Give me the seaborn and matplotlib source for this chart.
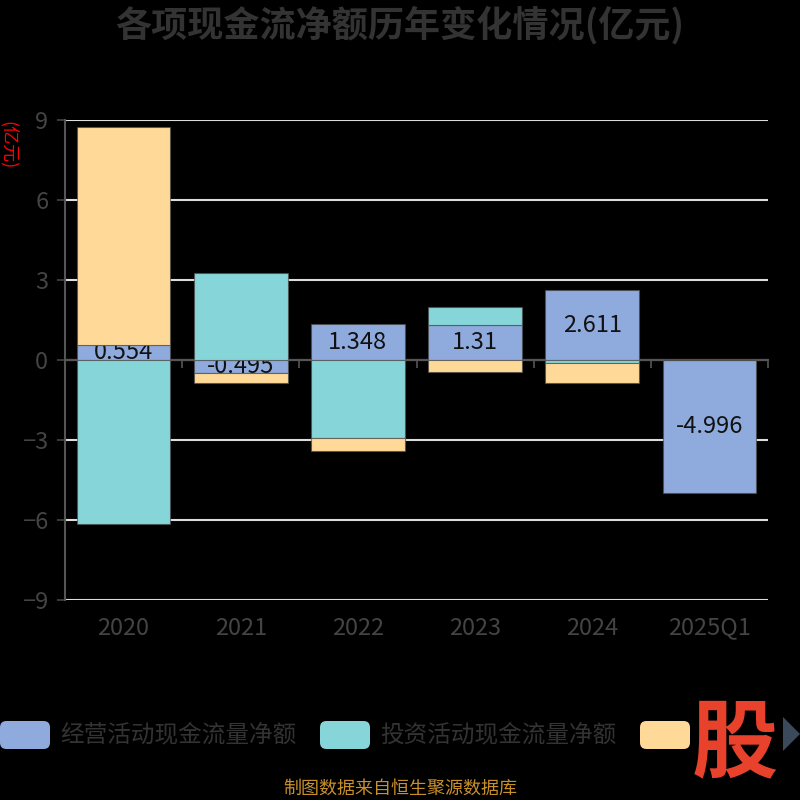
import matplotlib
matplotlib.use("Agg")
import matplotlib.pyplot as plt
from matplotlib.patches import FancyBboxPatch, Polygon
import numpy as np
import pandas as pd
import seaborn as sns

years = ["2020", "2021", "2022", "2023", "2024", "2025Q1"]
operating = [0.554, -0.495, 1.348, 1.31, 2.611, -4.996]
investing = [-6.15, 3.26, -2.92, 0.68, -0.10, 0.0]
financing = [8.18, -0.37, -0.49, -0.45, -0.76, 0.0]
series_names = ["经营活动现金流量净额", "投资活动现金流量净额", "筹资活动现金流量净额"]
colors = ["#8FAADC", "#86D5D8", "#FFD998"]

sns.set_theme(style="white")
plt.rcParams["font.family"] = ["Noto Sans CJK SC", "DejaVu Sans"]

fig = plt.figure(figsize=(8, 8), dpi=100, facecolor="black")
ax = fig.add_axes([0.08125, 0.25, 0.87875, 0.60])
ax.set_facecolor("black")

# separate stacking for positive and negative values
pos_base = np.zeros(len(years))
neg_base = np.zeros(len(years))
bottoms = []
for vals in (operating, investing, financing):
    v = np.array(vals)
    b = np.where(v >= 0, pos_base, neg_base)
    bottoms.append(b)
    pos_base = pos_base + np.where(v >= 0, v, 0)
    neg_base = neg_base + np.where(v < 0, v, 0)

df = pd.DataFrame({"year": years, "op": operating, "inv": investing, "fin": financing})
for i, (col, c) in enumerate(zip(["op", "inv", "fin"], colors)):
    sns.barplot(data=df, x="year", y=col, bottom=bottoms[i], color=c, saturation=1,
                width=0.8, errorbar=None, ax=ax, edgecolor=(0.3, 0.3, 0.3, 0.7),
                linewidth=0.8, zorder=2 if i == 0 else 3)

for i, v in enumerate(operating):
    ax.text(i, bottoms[0][i] + v / 2, f"{v:g}", ha="center", va="center",
            fontsize=17, color="#111111", zorder=2.5)

ax.set_xlim(-0.5, 5.5)
ax.set_ylim(-9, 9)
ax.set_yticks(range(-9, 10, 3))
ax.set_xlabel("")
ax.set_ylabel("")
ax.grid(axis="y", color="#dddddd", linewidth=1.5)
ax.grid(axis="x", visible=False)
ax.set_axisbelow(True)
for s in ["top", "right", "bottom"]:
    ax.spines[s].set_visible(False)
ax.spines["left"].set_color("#555555")
ax.spines["left"].set_linewidth(1.5)
ax.tick_params(axis="y", colors="#444444", labelsize=17, length=6, width=1.2,
               direction="out", left=True, pad=6)
ax.tick_params(axis="x", colors="#444444", labelsize=17, length=0, pad=12)

# zero axis line with category boundary ticks (pointing down)
sec = ax.secondary_xaxis(0.5)
sec.set_xticks(np.arange(-0.5, 6, 1.0))
sec.set_xticklabels([])
sec.xaxis.set_ticks_position("bottom")
sec.spines["top"].set_visible(False)
sec.spines["bottom"].set_visible(True)
sec.spines["bottom"].set_color("#555555")
sec.spines["bottom"].set_linewidth(1.5)
sec.tick_params(axis="x", length=6, width=1.2, color="#555555", direction="out",
                bottom=True, top=False)
sec.set_zorder(1)

fig.text(8 / 800, 1 - 145 / 800, "(亿元)", rotation=270, color="red", fontsize=13,
         ha="center", va="center")

fig.text(0.5, 0.968, "各项现金流净额历年变化情况(亿元)", ha="center", va="center",
         fontsize=26, fontweight="bold", color="#333333")

# legend
legend_x = [0, 320, 640]
for lx, name, c in zip(legend_x, series_names, colors):
    fig.patches.append(FancyBboxPatch((lx / 800, 1 - 749 / 800), 50 / 800, 28 / 800,
                                      boxstyle="round,pad=0,rounding_size=0.008",
                                      transform=fig.transFigure, facecolor=c,
                                      edgecolor="none"))
    if lx < 600:
        fig.text((lx + 60) / 800, 1 - 735 / 800, name, ha="left", va="center",
                 fontsize=17, color="#333333")

fig.patches.append(Polygon([[783 / 800, 1 - 717 / 800], [800 / 800, 1 - 734 / 800],
                            [783 / 800, 1 - 751 / 800]], closed=True,
                           transform=fig.transFigure, facecolor="#3A4A5A",
                           edgecolor="none"))
fig.text(735 / 800, 1 - 745 / 800, "股", ha="center", va="center", fontsize=62,
         fontweight="bold", color="#E8412C")

fig.text(0.5, 1 - 789 / 800, "制图数据来自恒生聚源数据库", ha="center", va="center",
         fontsize=13, color="#C8902A")

fig.savefig("out.png", dpi=100, facecolor="black")
